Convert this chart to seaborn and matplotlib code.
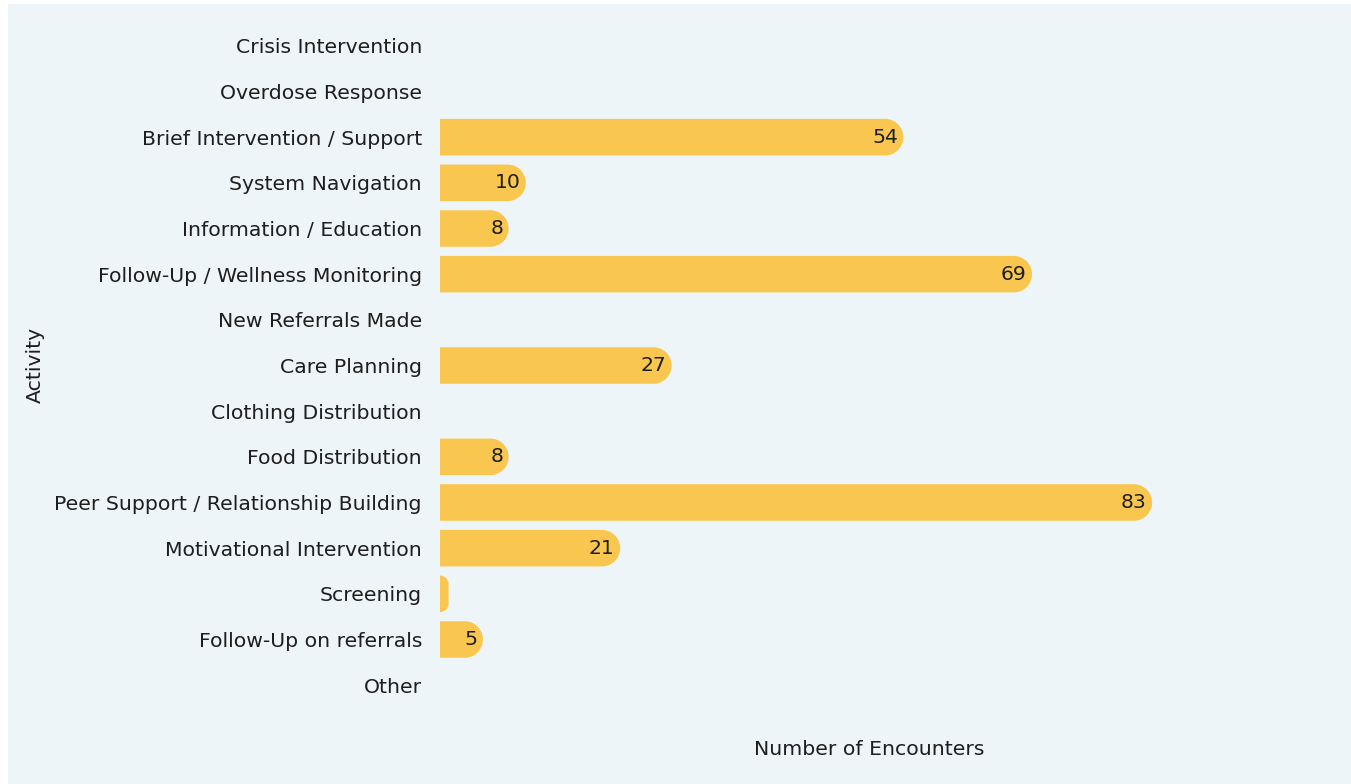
import numpy as np
import pandas as pd
import seaborn as sns
import matplotlib.pyplot as plt
from matplotlib.patches import Rectangle, PathPatch
from matplotlib.path import Path
from matplotlib.transforms import Affine2D

# ---------------------------------------------------------
# DATA
# ---------------------------------------------------------
activities = [
    "Crisis Intervention", "Overdose Response", "Brief Intervention / Support",
    "System Navigation", "Information / Education", "Follow-Up / Wellness Monitoring",
    "New Referrals Made", "Care Planning", "Clothing Distribution", "Food Distribution",
    "Peer Support / Relationship Building", "Motivational Intervention", "Screening",
    "Follow-Up on referrals", "Other",
]
encounters = [0, 0, 54, 10, 8, 69, 0, 27, 0, 8, 83, 21, 1, 5, 0]

df = pd.DataFrame({"Activity": activities, "Encounters": encounters})

BG = "#EDF5F8"
BAR = "#F9C74F"
TXT = "#1E1E1E"
FS = 14.7

sns.set_theme(style="white")
plt.rcParams["font.family"] = ["DejaVu Sans"]

fig = plt.figure(figsize=(13.51, 7.84), dpi=100)
fig.patch.set_facecolor("white")
fig.patches.append(Rectangle((8 / 1351, 0), 1, 780 / 784, transform=fig.transFigure,
                             facecolor=BG, edgecolor="none", zorder=-10))
ax = fig.add_axes([440 / 1351, 76 / 784, 858 / 1351, 685 / 784])
ax.set_facecolor("none")

sns.barplot(data=df, x="Encounters", y="Activity", orient="h", color=BAR,
            width=0.8, saturation=1, ax=ax)
ax.set_xlim(0, 100)

# ---------------------------------------------------------
# ROUNDED RIGHT ENDS
# ---------------------------------------------------------
fig.canvas.draw()
px_x = ax.transData.transform((1, 0))[0] - ax.transData.transform((0, 0))[0]
px_y = abs(ax.transData.transform((0, 1))[1] - ax.transData.transform((0, 0))[1])


def rounded_right(x0, y0, w, h):
    # rectangle with square left side and rounded right corners
    r_px = min(abs(h) * px_y / 2, w * px_x)
    rx, ry = r_px / px_x, r_px / px_y
    ylo, yhi = min(y0, y0 + h), max(y0, y0 + h)
    cx = x0 + w - rx
    arc1 = Path.arc(-90, 0).transformed(Affine2D().scale(rx, ry).translate(cx, ylo + ry))
    arc2 = Path.arc(0, 90).transformed(Affine2D().scale(rx, ry).translate(cx, yhi - ry))
    verts = [(x0, ylo), (cx, ylo)] + list(arc1.vertices) + list(arc2.vertices) + \
        [(x0, yhi), (x0, ylo)]
    codes = [Path.MOVETO, Path.LINETO] + [Path.LINETO] + list(arc1.codes[1:]) + \
        [Path.LINETO] + list(arc2.codes[1:]) + [Path.LINETO, Path.CLOSEPOLY]
    return Path(verts, codes)


for p, v in zip(list(ax.patches), encounters):
    x0, y0, w, h = p.get_x(), p.get_y(), p.get_width(), p.get_height()
    p.set_visible(False)
    if w <= 0:
        continue
    ax.add_patch(PathPatch(rounded_right(x0, y0, w, h), facecolor=BAR,
                           edgecolor="none", zorder=2))
    if v >= 3:
        ax.annotate(str(v), (w, y0 + h / 2), xytext=(-4, 0), textcoords="offset points",
                    ha="right", va="center", fontsize=FS, color=TXT, zorder=3)

for s in ax.spines.values():
    s.set_visible(False)
ax.set_xticks([])
ax.tick_params(axis="y", length=0, pad=13, labelsize=FS, labelcolor=TXT)
ax.set_xlabel("Number of Encounters", fontsize=FS, color=TXT, labelpad=23)
ax.set_ylabel("")
fig.text(35 / 1351, 1 - 365 / 784, "Activity", rotation=90, ha="center", va="center",
         fontsize=FS, color=TXT)

fig.savefig("out.png", dpi=100, facecolor=fig.get_facecolor())
